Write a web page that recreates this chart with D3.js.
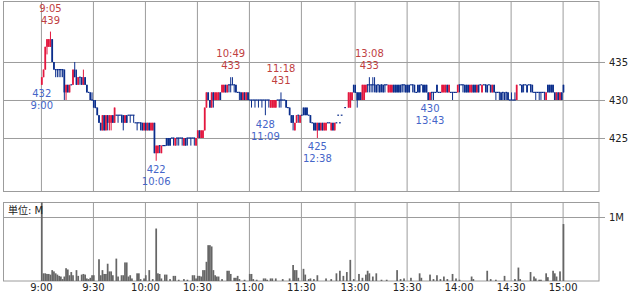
<!DOCTYPE html>
<html>
<head>
<meta charset="utf-8">
<script src="https://cdn.jsdelivr.net/npm/d3@7"></script>
<style>
  body { margin: 0; background: #fff; }
  text { font-family: "DejaVu Sans", "Noto Sans CJK JP", sans-serif; }
</style>
</head>
<body>
<div id="chart"></div>
<script>
// per-minute bars: time, open, high, low, close
var bars = [
  ["9:00",432,433,432,433],["9:01",433,434,433,434],["9:02",434,437,434,437],["9:03",437,438,436,438],
  ["9:04",437,438,437,438],["9:05",437,439,437,438],["9:06",438,438,435,435],["9:07",435,435,434,434],
  ["9:08",434,434,433,434],["9:09",434,434,433,434],["9:10",434,434,433,434],["9:11",434,434,433,434],
  ["9:12",434,434,433,434],["9:13",434,434,430,431],["9:14",431,432,430,432],["9:15",432,432,431,431],
  ["9:16",431,432,431,432],["9:17",432,432,432,432],["9:18",432,434,432,434],["9:19",434,435,433,433],
  ["9:20",433,434,432,432],["9:21",432,433,432,433],["9:22",433,433,432,433],["9:23",433,433,432,432],
  ["9:24",432,434,432,433],["9:25",433,433,432,432],["9:26",432,432,431,431],["9:27",431,431,431,431],
  ["9:28",431,431,430,430],["9:29",430,431,430,430],["9:30",430,430,429,429],["9:31",429,430,429,429],
  ["9:32",429,429,428,428],["9:33",428,428,427,427],["9:34",427,427,426,426],["9:35",426,428,426,428],
  ["9:36",428,428,426,426],["9:37",426,428,426,428],["9:38",428,428,426,427],["9:39",427,428,426,428],
  ["9:40",427,428,426,428],["9:41",428,428,427,427],["9:42",427,429,427,429],["9:43",428,428,428,428],
  ["9:44",428,428,427,428],["9:45",428,428,428,428],["9:46",428,428,427,428],["9:47",428,428,426,427],
  ["9:48",427,428,427,428],["9:49",428,428,427,427],["9:50",428,428,428,428],["9:51",428,428,427,428],
  ["9:52",428,428,428,428],["9:53",428,428,427,428],["9:54",427,427,427,427],["9:55",427,427,426,427],
  ["9:56",427,427,427,427],["9:57",427,427,426,427],["9:58",427,427,426,426],["9:59",426,427,426,427],
  ["10:00",427,427,426,426],["10:01",426,427,426,427],["10:02",427,427,426,426],["10:03",426,427,426,427],
  ["10:04",426,427,426,427],["10:05",427,427,423,423],["10:06",423,424,422,424],["10:07",423,424,423,424],
  ["10:08",424,424,423,424],["10:09",423,424,423,424],["10:10",424,424,424,424],["10:11",424,424,424,424],
  ["10:12",425,425,424,424],["10:13",425,425,424,424],["10:14",425,425,424,424],["10:15",425,425,425,425],
  ["10:16",425,425,424,425],["10:17",424,425,424,425],["10:18",425,425,424,425],["10:19",425,425,424,425],
  ["10:20",425,425,425,425],["10:21",425,425,424,425],["10:22",424,425,424,425],["10:23",425,425,424,424],
  ["10:24",425,425,424,425],["10:25",425,425,425,425],["10:26",425,425,424,425],["10:27",425,425,425,425],
  ["10:28",425,425,424,425],["10:29",424,425,424,425],["10:30",425,426,425,426],["10:31",426,426,425,425],
  ["10:32",425,426,425,426],["10:33",425,426,425,426],["10:34",426,429,426,429],["10:35",429,431,429,431],
  ["10:36",431,431,430,430],["10:37",430,430,429,429],["10:38",429,431,429,431],["10:39",431,431,429,430],
  ["10:40",430,431,430,431],["10:41",430,431,430,431],["10:42",430,431,430,431],["10:43",431,431,430,430],
  ["10:44",431,432,431,432],["10:45",431,432,431,432],["10:46",432,432,431,431],["10:47",431,432,431,432],
  ["10:48",432,432,431,432],["10:49",432,433,431,432],["10:50",432,433,432,432],["10:51",432,432,431,432],
  ["10:52",432,432,431,431],["10:53",431,431,431,431],["10:54",431,431,430,431],["10:55",431,431,430,430],
  ["10:56",430,431,430,431],["10:57",431,431,430,430],["10:58",430,431,430,431],["10:59",431,431,430,430],
  ["11:00",430,430,430,430],["11:01",430,430,429,430],["11:02",430,430,430,430],["11:03",430,430,429,430],
  ["11:04",430,430,430,430],["11:05",430,430,429,430],["11:06",430,430,430,430],["11:07",430,430,429,430],
  ["11:08",430,430,430,430],["11:09",430,430,428,430],["11:10",430,430,430,430],["11:11",430,430,429,430],
  ["11:12",429,430,429,430],["11:13",429,430,429,430],["11:14",429,430,429,430],["11:15",429,430,429,430],
  ["11:16",430,430,430,430],["11:17",430,430,429,430],["11:18",430,431,429,430],["11:19",430,430,430,430],
  ["11:20",430,430,430,430],["11:21",430,430,429,429],["11:22",429,429,429,429],["11:23",429,429,428,428],
  ["11:24",428,428,427,427],["11:25",428,428,426,427],["11:26",426,427,426,427],["11:27",427,428,427,428],
  ["11:28",428,428,427,428],["11:29",427,428,427,428],["11:30",428,428,428,428],
  ["12:30",429,429,428,428],["12:31",429,429,428,428],["12:32",429,429,428,428],["12:33",428,428,428,428],
  ["12:34",428,428,427,427],["12:35",427,427,427,427],["12:36",427,427,426,426],["12:37",427,427,426,426],
  ["12:38",426,427,425,427],["12:39",427,427,426,426],["12:40",426,427,426,427],["12:41",427,427,426,426],
  ["12:42",426,427,426,427],["12:43",426,427,426,427],["12:44",427,427,427,427],["12:45",427,427,427,427],
  ["12:46",426,427,426,427],["12:47",427,427,426,426],["12:48",426,427,426,427],["12:49",427,427,427,427],
  ["12:50",428,428,428,428],["12:51",427,427,427,427],["12:52",428,428,428,428],["12:54",429,429,429,429],
  ["12:56",429,431,429,431],["12:57",429,431,429,431],["12:58",430,431,430,431],["12:59",432,432,431,431],
  ["13:00",431,432,431,431],["13:01",431,431,429,430],["13:02",431,431,430,430],["13:03",431,431,430,430],
  ["13:04",430,432,430,432],["13:05",430,432,430,432],["13:06",431,432,431,432],["13:07",432,432,431,432],
  ["13:08",432,433,431,432],["13:09",432,432,431,432],["13:10",432,433,431,432],["13:11",432,433,431,432],
  ["13:12",432,432,431,431],["13:13",432,432,431,432],["13:14",432,432,431,431],["13:15",432,432,431,432],
  ["13:16",432,432,431,431],["13:17",432,432,431,432],["13:18",432,432,432,432],["13:19",431,432,431,432],
  ["13:20",431,432,431,432],["13:21",431,432,431,432],["13:22",432,432,431,431],["13:23",432,432,431,431],
  ["13:24",432,432,431,431],["13:25",432,432,431,431],["13:26",432,432,431,431],["13:27",432,432,431,432],
  ["13:28",432,432,431,432],["13:29",432,432,431,431],["13:30",432,432,431,431],["13:31",432,432,431,431],
  ["13:32",432,432,432,432],["13:33",432,432,431,432],["13:34",432,432,431,431],["13:35",431,431,431,431],
  ["13:36",432,432,431,431],["13:37",432,432,431,431],["13:38",432,432,432,432],["13:39",432,432,431,431],
  ["13:40",432,432,431,431],["13:41",432,432,431,431],["13:42",431,431,430,430],["13:43",430,431,430,431],
  ["13:44",431,431,430,431],["13:45",431,431,430,431],["13:46",431,431,431,431],["13:47",432,432,431,431],
  ["13:48",431,431,431,431],["13:49",431,431,431,431],["13:50",431,432,431,432],["13:51",431,432,431,432],
  ["13:52",431,432,431,432],["13:53",432,432,431,431],["13:54",431,432,431,432],["13:55",431,431,431,431],
  ["13:56",431,431,430,431],["13:57",431,431,431,431],["13:58",431,431,431,431],["13:59",431,432,431,432],
  ["14:00",432,432,431,432],["14:01",432,432,432,432],["14:02",432,432,431,432],["14:03",432,432,431,431],
  ["14:04",432,432,431,431],["14:05",432,432,431,431],["14:06",431,432,431,432],["14:07",431,432,431,432],
  ["14:08",432,432,431,431],["14:09",432,432,431,431],["14:10",431,432,431,432],["14:11",432,432,431,431],
  ["14:12",432,432,432,432],["14:13",431,432,431,432],["14:14",432,432,432,432],["14:15",432,432,431,432],
  ["14:16",432,432,431,431],["14:17",432,432,432,432],["14:18",432,432,431,431],["14:19",431,432,431,432],
  ["14:20",432,432,431,431],["14:21",431,431,430,431],["14:22",431,431,431,431],["14:23",431,431,430,431],
  ["14:24",431,431,430,430],["14:25",431,431,430,431],["14:26",431,431,430,430],["14:27",431,431,430,431],
  ["14:28",431,431,430,430],["14:29",430,430,430,430],["14:30",430,431,430,430],["14:31",430,430,430,430],
  ["14:32",430,431,430,430],["14:33",430,432,430,432],["14:35",432,432,432,432],["14:36",432,432,431,431],
  ["14:37",432,432,431,432],["14:38",432,432,432,432],["14:39",432,432,431,431],["14:40",432,432,432,432],
  ["14:41",432,432,431,432],["14:42",432,432,431,431],["14:43",431,431,431,431],["14:44",431,431,430,431],
  ["14:45",431,431,431,431],["14:46",431,431,430,431],["14:47",431,431,430,431],["14:48",431,431,431,431],
  ["14:49",431,431,430,431],["14:50",430,431,430,431],["14:51",432,432,431,431],["14:52",432,432,431,431],
  ["14:53",432,432,431,431],["14:54",432,432,431,431],["14:55",431,431,430,430],["14:56",430,431,430,431],
  ["14:57",431,431,430,430],["14:58",430,431,430,431],["14:59",431,431,430,430],["15:00",432,432,431,431]
];

// volume per minute, millions of shares
var volumes = [
  ["9:00",1.50],["9:01",0.12],["9:02",0.12],["9:03",0.11],["9:04",0.11],["9:05",0.10],["9:06",0.17],["9:07",0.15],
  ["9:08",0.12],["9:09",0.10],["9:10",0.08],["9:11",0.07],["9:12",0.03],["9:13",0.07],["9:14",0.20],["9:15",0.18],
  ["9:16",0.09],["9:17",0.14],["9:18",0.09],["9:20",0.17],["9:21",0.08],["9:23",0.10],["9:24",0.11],["9:25",0.10],
  ["9:26",0.04],["9:27",0.03],["9:28",0.05],["9:29",0.09],["9:30",0.09],["9:33",0.34],["9:34",0.09],["9:35",0.17],
  ["9:36",0.11],["9:37",0.11],["9:38",0.27],["9:39",0.15],["9:40",0.15],["9:41",0.09],["9:43",0.35],["9:44",0.07],
  ["9:46",0.09],["9:47",0.09],["9:48",0.29],["9:49",0.29],["9:50",0.07],["9:51",0.09],["9:52",0.04],["9:55",0.12],
  ["9:56",0.12],["9:57",0.03],["9:59",0.04],["10:00",0.09],["10:02",0.17],["10:04",0.03],["10:06",0.82],["10:07",0.12],
  ["10:08",0.11],["10:09",0.04],["10:11",0.10],["10:12",0.10],["10:14",0.03],["10:16",0.08],["10:17",0.08],["10:19",0.02],
  ["10:22",0.03],["10:24",0.02],["10:27",0.09],["10:28",0.09],["10:29",0.04],["10:30",0.08],["10:31",0.08],["10:32",0.07],
  ["10:33",0.17],["10:34",0.17],["10:35",0.30],["10:36",0.56],["10:37",0.56],["10:38",0.54],["10:39",0.17],["10:40",0.09],
  ["10:41",0.07],["10:42",0.07],["10:44",0.03],["10:47",0.16],["10:48",0.16],["10:49",0.11],["10:51",0.05],["10:52",0.05],
  ["10:53",0.08],["10:54",0.03],["10:57",0.02],["11:00",0.11],["11:01",0.11],["11:02",0.03],["11:04",0.02],["11:08",0.04],
  ["11:09",0.04],["11:10",0.02],["11:12",0.04],["11:13",0.04],["11:15",0.04],["11:19",0.03],["11:23",0.04],["11:25",0.25],
  ["11:26",0.17],["11:27",0.17],["11:28",0.05],["12:30",0.19],["12:31",0.10],["12:33",0.03],["12:34",0.04],["12:36",0.03],
  ["12:38",0.09],["12:43",0.04],["12:46",0.03],["12:49",0.12],["12:51",0.16],["12:53",0.08],["12:55",0.14],["12:57",0.33],
  ["12:59",0.03],["13:02",0.11],["13:04",0.05],["13:06",0.10],["13:07",0.16],["13:08",0.12],["13:10",0.07],["13:12",0.12],
  ["13:15",0.02],["13:18",0.02],["13:24",0.17],["13:26",0.03],["13:28",0.04],["13:32",0.05],["13:37",0.12],["13:38",0.05],
  ["13:43",0.10],["13:45",0.03],["13:47",0.09],["13:49",0.03],["13:51",0.07],["13:53",0.03],["13:56",0.11],["13:58",0.04],
  ["14:00",0.02],["14:07",0.07],["14:08",0.03],["14:16",0.16],["14:18",0.03],["14:21",0.02],["14:26",0.08],["14:32",0.03],
  ["14:34",0.21],["14:35",0.03],["14:41",0.14],["14:43",0.07],["14:44",0.04],["14:46",0.02],["14:47",0.02],["14:50",0.12],
  ["14:51",0.06],["14:54",0.16],["14:55",0.12],["14:56",0.07],["14:58",0.15],["15:00",0.89]
];

var timeTicks = ["9:00","9:30","10:00","10:30","11:00","11:30","13:00","13:30","14:00","14:30","15:00"];
var priceTicks = [425, 430, 435];
var volumeTicks = [1];

// session highs and lows that get a label
var highMarks = [["9:05",439],["10:49",433],["11:18",431],["13:08",433]];
var lowMarks = [["9:00",432],["10:06",422],["11:09",428],["12:38",425],["13:43",430]];

var upColor = "#e3173e", downColor = "#0b2e8c", gridColor = "#9c9c9c";

var width = 631, height = 295;
var plot = {left: 3.5, right: 599, top: 1.5, bottom: 191.5};
var vol = {top: 202.5, bottom: 281};

// minute slot: morning 9:00-11:30, one empty slot, then 12:30-15:00
function slot(t) {
  var p = t.split(":");
  var m = (+p[0] - 9) * 60 + (+p[1]);
  return m <= 150 ? m : m - 210 + 151;
}

var svg = d3.select("#chart").append("svg")
  .attr("width", width)
  .attr("height", height);

var x = d3.scaleLinear().domain([-21.6, 322]).range([plot.left, plot.right]);
var y = d3.scaleLinear().domain([417.96, 442.96]).range([plot.bottom, plot.top]);
var yv = d3.scaleLinear().domain([0, 1]).range([vol.bottom, 217]);
var step = x(1) - x(0);

svg.append("clipPath").attr("id", "clipP")
  .append("rect").attr("x", plot.left).attr("y", plot.top)
  .attr("width", plot.right - plot.left).attr("height", plot.bottom - plot.top);
svg.append("clipPath").attr("id", "clipV")
  .append("rect").attr("x", plot.left).attr("y", vol.top)
  .attr("width", plot.right - plot.left).attr("height", vol.bottom - vol.top);

// vertical grid, both panels
[[plot.top, plot.bottom], [vol.top, vol.bottom]].forEach(function(r) {
  svg.append("g")
    .attr("class", "grid")
    .attr("transform", "translate(0," + r[1] + ")")
    .call(d3.axisBottom(x).tickValues(timeTicks.map(slot))
      .tickSize(-(r[1] - r[0])).tickFormat(""));
});

// horizontal grid + right labels, price
svg.append("g")
  .attr("class", "grid")
  .attr("transform", "translate(" + plot.right + ",0)")
  .call(d3.axisLeft(y).tickValues(priceTicks).tickSize(plot.right - plot.left).tickFormat(""));
svg.append("g")
  .attr("class", "raxis")
  .attr("transform", "translate(" + plot.right + ",0)")
  .call(d3.axisRight(y).tickValues(priceTicks).tickSize(6).tickPadding(4));

// horizontal grid + right labels, volume
svg.append("g")
  .attr("class", "grid")
  .attr("transform", "translate(" + plot.right + ",0)")
  .call(d3.axisLeft(yv).tickValues(volumeTicks).tickSize(plot.right - plot.left).tickFormat(""));
svg.append("g")
  .attr("class", "raxis")
  .attr("transform", "translate(" + plot.right + ",0)")
  .call(d3.axisRight(yv).tickValues(volumeTicks).tickSize(6).tickPadding(4)
    .tickFormat(function(d) { return d + "M"; }));

// time labels
svg.append("g")
  .attr("class", "xaxis")
  .attr("transform", "translate(0," + vol.bottom + ")")
  .call(d3.axisBottom(x).tickValues(timeTicks.map(slot)).tickSize(0).tickPadding(3)
    .tickFormat(function(d, i) { return timeTicks[i]; }));

svg.selectAll(".domain").remove();
svg.selectAll(".grid line").attr("stroke", gridColor).attr("stroke-width", 1);
svg.selectAll(".raxis line").attr("stroke", gridColor);
svg.selectAll(".raxis text, .xaxis text")
  .attr("fill", "#222")
  .style("font-size", "10px")
  .style("font-family", "DejaVu Sans");

// frames
[[plot.top, plot.bottom], [vol.top, vol.bottom]].forEach(function(r) {
  svg.append("rect")
    .attr("x", plot.left).attr("y", r[0])
    .attr("width", plot.right - plot.left).attr("height", r[1] - r[0])
    .attr("fill", "none").attr("stroke", gridColor);
});

// candles
var candles = svg.append("g").attr("clip-path", "url(#clipP)");
var c = candles.selectAll("g").data(bars).enter().append("g");
function colorOf(d) { return d[4] >= d[1] ? upColor : downColor; }
c.append("line")
  .attr("x1", function(d) { return x(slot(d[0]) + 0.5); })
  .attr("x2", function(d) { return x(slot(d[0]) + 0.5); })
  .attr("y1", function(d) { return y(d[2]); })
  .attr("y2", function(d) { return y(d[3]); })
  .attr("stroke", function(d) { return d[1] === d[4] ? downColor : colorOf(d); })
  .attr("stroke-width", 1);
c.append("rect")
  .attr("x", function(d) { return x(slot(d[0])); })
  .attr("width", step)
  .attr("y", function(d) { return y(Math.max(d[1], d[4])) - (d[1] === d[4] ? 0.6 : 0); })
  .attr("height", function(d) { return Math.max(1.2, Math.abs(y(d[1]) - y(d[4]))); })
  .attr("fill", function(d) { return d[1] === d[4] ? downColor : colorOf(d); });

// volume bars
svg.append("g").attr("clip-path", "url(#clipV)")
  .selectAll("rect").data(volumes).enter().append("rect")
  .attr("x", function(d) { return x(slot(d[0])); })
  .attr("width", step)
  .attr("y", function(d) { return yv(d[1]); })
  .attr("height", function(d) { return vol.bottom - yv(d[1]); })
  .attr("fill", "#666");

svg.append("text")
  .attr("x", 8).attr("y", 214)
  .style("font-size", "10px")
  .attr("fill", "#222")
  .text("単位: M");

// high / low labels
var hi = svg.append("g").attr("fill", "#c0413f").style("font-size", "10px").attr("text-anchor", "middle");
highMarks.forEach(function(d) {
  var cx = x(slot(d[0]) + 0.5), cy = y(d[1]);
  hi.append("text").attr("x", cx).attr("y", cy - 20).text(d[0]);
  hi.append("text").attr("x", cx).attr("y", cy - 8).text(d[1]);
});
var lo = svg.append("g").attr("fill", "#4565c8").style("font-size", "10px").attr("text-anchor", "middle");
lowMarks.forEach(function(d) {
  var cx = x(slot(d[0]) + 0.5), cy = y(d[1]);
  lo.append("text").attr("x", cx).attr("y", cy + 12.5).text(d[1]);
  lo.append("text").attr("x", cx).attr("y", cy + 24.5).text(d[0]);
});
</script>
</body>
</html>
